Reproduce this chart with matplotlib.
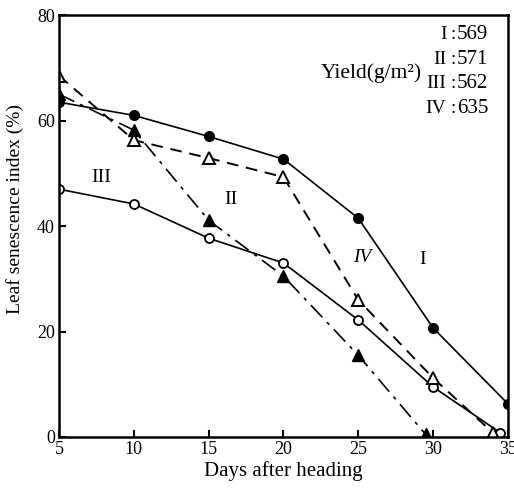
import matplotlib.pyplot as plt

plt.rcParams['font.family'] = ['Liberation Serif', 'DejaVu Serif']

# days after heading
days_I = [5, 10, 15, 20, 25, 30, 35]
sen_I = [63.5, 61, 57, 52.7, 41.5, 20.7, 6.3]

days_II = [5, 10, 15, 20, 25, 29.5]
sen_II = [65, 58.2, 41.1, 30.5, 15.5, 0.5]

days_III = [5, 10, 15, 20, 25, 30, 34.5]
sen_III = [47, 44.2, 37.7, 33, 22.2, 9.5, 0.8]

days_IV = [5, 10, 15, 20, 25, 30, 34]
sen_IV = [68.5, 56.3, 52.9, 49.3, 26, 11.2, 0.8]

yield_names = ['I', 'II', 'III', 'IV']
yield_vals = [569, 571, 562, 635]

fig = plt.figure(figsize=(5.14, 4.91), dpi=100)
ax = fig.add_axes([0.115, 0.110, 0.873, 0.859])

ax.plot(days_I, sen_I, '-', color='k', lw=1.2, marker='o', ms=7,
        mfc='k', mec='k')
ax.plot(days_II, sen_II, color='k', lw=1.2, linestyle=(0, (10, 4, 2, 4)),
        marker='^', ms=8, mfc='k', mec='k')
ax.plot(days_III, sen_III, '-', color='k', lw=1.2, marker='o', ms=6.5,
        mfc='white', mec='k', mew=1.3)
ax.plot(days_IV, sen_IV, color='k', lw=1.4, linestyle=(0, (6, 4)),
        marker='^', ms=8, mfc='white', mec='k', mew=1.4)

# curve labels
ax.text(7.8, 49.3, 'III', fontsize=14, ha='center', va='center')
ax.text(16.5, 45, 'II', fontsize=14, ha='center', va='center')
ax.text(25.3, 34, 'IV', fontsize=14, ha='center', va='center', style='italic')
ax.text(29.3, 33.6, 'I', fontsize=14, ha='center', va='center')

# yield annotation
ax.text(25.9, 69, 'Yield(g/m²)', fontsize=15.5, ha='center', va='center')
for i, (nm, v) in enumerate(zip(yield_names, yield_vals)):
    yy = 76.3 - i * 4.65
    ax.text(30.9, yy, nm, fontsize=14, ha='right', va='center')
    ax.text(31.15, yy, ':', fontsize=14, ha='left', va='center')
    ax.text(31.6, yy, str(v), fontsize=15, ha='left', va='center')

ax.set_xlim(5, 35)
ax.set_ylim(0, 80)
ax.set_xticks([5, 10, 15, 20, 25, 30, 35])
ax.set_yticks([0, 20, 40, 60, 80])
ax.tick_params(direction='in', labelsize=13, width=1.5, length=5, pad=3)
for s in ax.spines.values():
    s.set_linewidth(1.8)

ax.set_xlabel('Days after heading', fontsize=15, labelpad=2)
ax.set_ylabel('Leaf senescence index (%)', fontsize=14)
ax.yaxis.set_label_coords(-0.078, 0.54)

fig.savefig('out.png', dpi=100)
